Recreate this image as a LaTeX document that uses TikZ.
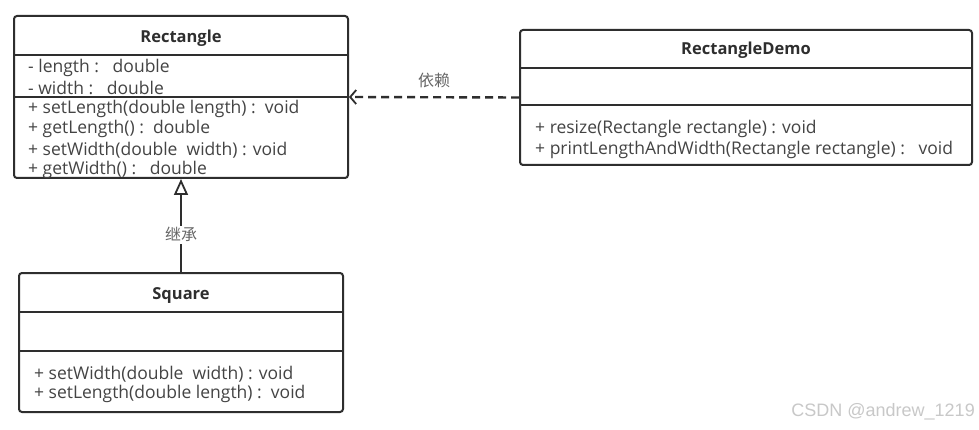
\documentclass[tikz,border=0pt]{standalone}
\usepackage{fontspec}
\setmainfont{Open Sans}
\newfontfamily\cjkfont{Noto Sans CJK SC}
\newfontfamily\markfont{Liberation Sans}
\usetikzlibrary{arrows.meta,positioning}
\definecolor{linegray}{HTML}{2E2E2E}
\definecolor{textgray}{HTML}{444444}
\definecolor{labelgray}{HTML}{666666}
\definecolor{markgray}{HTML}{C8C8C8}
\tikzset{
  umlbox/.style={draw=linegray,line width=2pt,rounded corners=3pt,fill=white},
  umltitle/.style={inner sep=0pt,font=\bfseries\fontsize{16.5}{18}\selectfont,text=linegray},
  member/.style={anchor=west,inner sep=0pt,font=\fontsize{17.5}{19}\selectfont,text=textgray},
  sepline/.style={draw=linegray,line width=2pt},
  depend/.style={draw=linegray,line width=2.4pt,dash pattern=on 8pt off 5pt,
    -{Straight Barb[length=6pt,width=14pt,line width=1.8pt]}},
  inherit/.style={draw=linegray,line width=2.2pt,
    -{Triangle[open,length=16pt,width=14pt,line width=1.8pt,fill=white]}},
  linklabel/.style={inner sep=2pt,fill=white,font=\cjkfont\fontsize{16}{18}\selectfont,text=labelgray},
}
\begin{document}
\begin{tikzpicture}[x=1pt,y=-1pt]
\useasboundingbox[fill=white] (0,0) rectangle (979,430);
% Rectangle
\node (rect) [umlbox,minimum width=334pt,minimum height=162pt] at (181,97) {};
\node (rect title) [umltitle] at (181,38) {Rectangle};
\draw[sepline] (rect.west |- 0,55) -- (rect.east |- 0,55);
\draw[sepline] (rect.west |- 0,97) -- (rect.east |- 0,97);
\node (rect length) [member] at (28,68) {- length :\ \ \ double};
\node (rect width) [member] at (28,88) {- width :\ \ \ double};
\node (rect setlength) [member] at (28,109) {+ setLength(double length) :\ \ void};
\node (rect getlength) [member] at (28,129) {+ getLength() :\ \ double};
\node (rect setwidth) [member] at (28,150) {+ setWidth(double\ \ width) : void};
\node (rect getwidth) [member] at (28,170) {+ getWidth() :\ \ \ double};
% RectangleDemo
\node (demo) [umlbox,minimum width=452pt,minimum height=135pt] at (746,97.5) {};
\node (demo title) [umltitle] at (746,50) {RectangleDemo};
\draw[sepline] (demo.west |- 0,68) -- (demo.east |- 0,68);
\draw[sepline] (demo.west |- 0,105) -- (demo.east |- 0,105);
\node (demo resize) [member] at (535,129) {+ resize(Rectangle rectangle) : void};
\node (demo print) [member] at (535,150) {+ printLengthAndWidth(Rectangle rectangle) :\ \ \ void};
% Square
\node (square) [umlbox,minimum width=324pt,minimum height=139pt] at (181,342.5) {};
\node (square title) [umltitle] at (181,296) {Square};
\draw[sepline] (square.west |- 0,312) -- (square.east |- 0,312);
\draw[sepline] (square.west |- 0,351) -- (square.east |- 0,351);
\node (square setwidth) [member] at (34,374) {+ setWidth(double\ \ width) : void};
\node (square setlength) [member] at (34,394) {+ setLength(double length) :\ \ void};
%
\path[depend] (demo.west) -- (rect.east) node[linklabel,midway,above=6pt] {依赖};
\path[inherit] (square.north) -- (rect.south) node[linklabel,pos=0.4] {继承};
% watermark
\node (mark) [anchor=east,inner sep=0pt,font=\markfont\fontsize{18}{20}\selectfont,text=markgray] at (975,412) {CSDN @andrew\_1219};
\end{tikzpicture}
\end{document}
